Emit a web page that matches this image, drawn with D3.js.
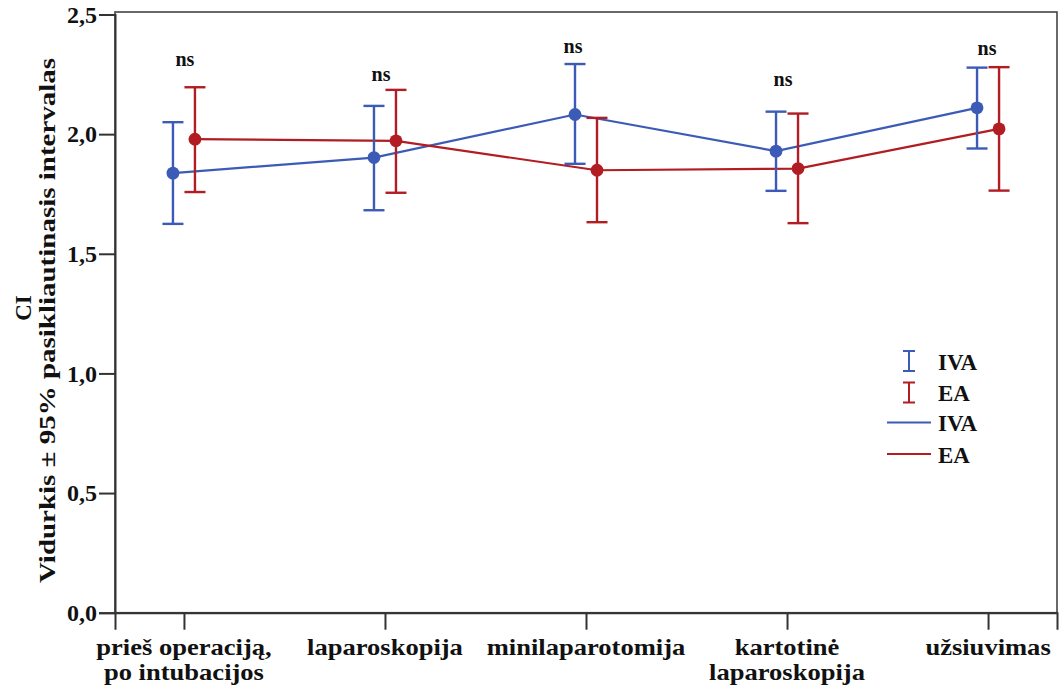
<!DOCTYPE html>
<html>
<head>
<meta charset="utf-8">
<script src="https://cdn.jsdelivr.net/npm/d3@7"></script>
<style>
  html, body { margin: 0; padding: 0; background: #fff; }
  svg { display: block; }
  text { font-family: "Liberation Serif", "DejaVu Serif", serif; font-weight: bold; fill: #111; }
</style>
</head>
<body>
<svg id="chart" width="1059" height="690"></svg>
<script>
// Phases of the procedure (x categories)
const categories = [
  ["prieš operaciją,", "po intubacijos"],
  ["laparoskopija"],
  ["minilaparotomija"],
  ["kartotinė", "laparoskopija"],
  ["užsiuvimas"]
];
const catKeys = categories.map(c => c.join(" "));

// Group means and 95% CI bounds
const ivaMean  = [1.837, 1.902, 2.082, 1.929, 2.110];
const ivaLower = [1.625, 1.682, 1.876, 1.763, 1.940];
const ivaUpper = [2.050, 2.118, 2.293, 2.094, 2.278];

const eaMean  = [1.979, 1.972, 1.849, 1.856, 2.022];
const eaLower = [1.758, 1.755, 1.632, 1.628, 1.764];
const eaUpper = [2.196, 2.185, 2.068, 2.086, 2.280];

// Significance annotation above each phase (label and the level it sits at)
const sigLabels = ["ns", "ns", "ns", "ns", "ns"];
const sigValues = [2.283, 2.224, 2.339, 2.203, 2.332];

const yTicks = [0, 0.5, 1.0, 1.5, 2.0, 2.5];

const series = [
  { name: "IVA", color: "#3b5bb6", mean: ivaMean, lo: ivaLower, hi: ivaUpper, dx: -11 },
  { name: "EA",  color: "#b11d22", mean: eaMean,  lo: eaLower,  hi: eaUpper,  dx: 11 }
];

const FONT = '"Liberation Serif", "DejaVu Serif", serif';
const svg = d3.select("#chart");
const plotLeft = 115, plotRight = 1057, plotTop = 12, plotBottom = 612.7;

const x = d3.scalePoint().domain(catKeys).range([plotLeft, plotRight]).padding(0.343);
const y = d3.scaleLinear().domain([0, 2.5]).range([plotBottom, 14.5]);

// Plot frame
svg.append("rect")
  .attr("x", plotLeft).attr("y", plotTop)
  .attr("width", plotRight - plotLeft).attr("height", plotBottom - plotTop)
  .attr("fill", "none").attr("stroke", "#444").attr("stroke-width", 1.6);

// Y axis
const yAxis = svg.append("g")
  .attr("transform", `translate(${plotLeft},0)`)
  .call(d3.axisLeft(y).tickValues(yTicks).tickSize(16).tickPadding(2)
    .tickFormat(d => d3.format(".1f")(d).replace(".", ",")));
yAxis.attr("font-family", FONT);
yAxis.select(".domain").attr("stroke", "#333").attr("stroke-width", 2);
yAxis.selectAll(".tick line").attr("stroke", "#333").attr("stroke-width", 2);
yAxis.selectAll(".tick text").attr("font-size", 24).attr("fill", "#111")
  .attr("font-family", FONT).attr("font-weight", "bold");

// X axis
const xAxis = svg.append("g")
  .attr("transform", `translate(0,${plotBottom})`)
  .call(d3.axisBottom(x).tickSize(17).tickFormat(""));
xAxis.select(".domain").attr("stroke", "#333").attr("stroke-width", 2);
xAxis.selectAll(".tick line").attr("stroke", "#333").attr("stroke-width", 2);

// Category labels (possibly two lines), set in a slightly widened face
categories.forEach((lines, i) => {
  const t = svg.append("text")
    .attr("transform", `translate(${x(catKeys[i])},655) scale(1.18,1)`)
    .attr("text-anchor", "middle")
    .attr("font-family", FONT)
    .attr("font-size", 22.5);
  lines.forEach((ln, j) => {
    t.append("tspan").attr("x", 0).attr("dy", j === 0 ? 0 : 25.5).text(ln);
  });
});

// Y axis title (two lines, rotated)
svg.append("text")
  .attr("transform", "translate(31,308) rotate(-90)")
  .attr("text-anchor", "middle")
  .attr("font-family", FONT)
  .attr("font-size", 23)
  .text("CI");
svg.append("text")
  .attr("transform", "translate(55,320.5) rotate(-90)")
  .attr("text-anchor", "middle")
  .attr("font-family", FONT)
  .attr("font-size", 23)
  .attr("textLength", 525)
  .attr("lengthAdjust", "spacingAndGlyphs")
  .text("Vidurkis ± 95% pasikliautinasis intervalas");

// Connecting lines
const line = d3.line().x(d => d[0]).y(d => d[1]);
series.forEach(s => {
  const pts = catKeys.map((k, i) => [x(k) + s.dx, y(s.mean[i])]);
  svg.append("path").attr("d", line(pts))
    .attr("fill", "none").attr("stroke", s.color).attr("stroke-width", 2.2);
});

// Error bars and mean markers
const capW = 10.5;
series.forEach(s => {
  const g = svg.append("g").attr("stroke", s.color).attr("stroke-width", 2.4);
  catKeys.forEach((k, i) => {
    const cx = x(k) + s.dx;
    g.append("line").attr("x1", cx).attr("x2", cx).attr("y1", y(s.lo[i])).attr("y2", y(s.hi[i]));
    g.append("line").attr("x1", cx - capW).attr("x2", cx + capW).attr("y1", y(s.hi[i])).attr("y2", y(s.hi[i]));
    g.append("line").attr("x1", cx - capW).attr("x2", cx + capW).attr("y1", y(s.lo[i])).attr("y2", y(s.lo[i]));
  });
  svg.append("g").selectAll("circle").data(s.mean).join("circle")
    .attr("cx", (d, i) => x(catKeys[i]) + s.dx)
    .attr("cy", d => y(d))
    .attr("r", 6.4)
    .attr("fill", s.color);
});

// Significance labels, nudged slightly left of each phase
const sigNudge = [1, -4, -13, -4, -1];
svg.append("g").selectAll("text").data(sigLabels).join("text")
  .attr("x", (d, i) => x(catKeys[i]) + sigNudge[i])
  .attr("y", (d, i) => y(sigValues[i]))
  .attr("text-anchor", "middle")
  .attr("font-family", FONT)
  .attr("font-size", 20)
  .text(d => d);

// Legend
const lg = svg.append("g").attr("font-family", FONT);
series.forEach((s, i) => {
  const cy = 361 + i * 31.5;
  const gx = 909;
  lg.append("line").attr("x1", gx).attr("x2", gx).attr("y1", cy - 10).attr("y2", cy + 10)
    .attr("stroke", s.color).attr("stroke-width", 2);
  [cy - 10, cy + 10].forEach(yy => lg.append("line")
    .attr("x1", gx - 6).attr("x2", gx + 6).attr("y1", yy).attr("y2", yy)
    .attr("stroke", s.color).attr("stroke-width", 2));
  lg.append("text").attr("x", 938).attr("y", cy + 8.5).attr("font-size", 23).text(s.name);
});
series.forEach((s, i) => {
  const cy = 422.5 + i * 31.5;
  lg.append("line").attr("x1", 887).attr("x2", 931).attr("y1", cy).attr("y2", cy)
    .attr("stroke", s.color).attr("stroke-width", 2.2);
  lg.append("text").attr("x", 938).attr("y", cy + 8.5).attr("font-size", 23).text(s.name);
});
</script>
</body>
</html>
